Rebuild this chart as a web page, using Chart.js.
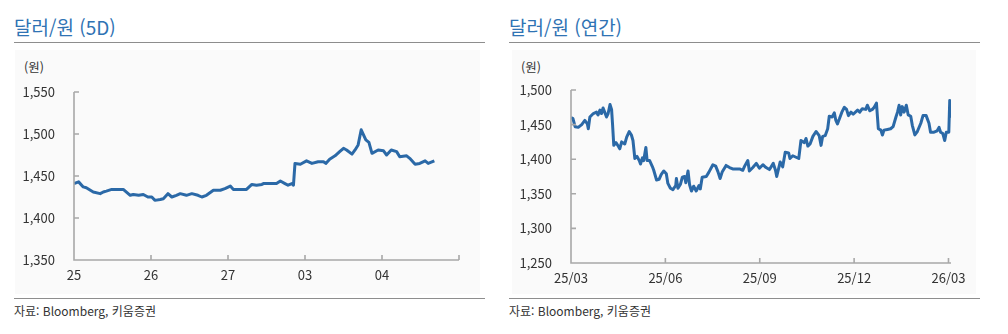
<!DOCTYPE html>
<html lang="ko">
<head>
<meta charset="utf-8">
<script src="https://cdn.jsdelivr.net/npm/chart.js@4"></script>
<style>
  html, body { margin: 0; padding: 0; background: #fff; }
  body { width: 1008px; height: 334px; position: relative; overflow: hidden;
         font-family: "Noto Sans CJK KR", "Noto Sans", sans-serif; color: #333; }
  .title { position: absolute; top: 14px; font-size: 19px; color: #2f73b4; line-height: 26px; }
  .rule { position: absolute; height: 0; border-top: 1.5px solid #8e8e8e; }
  .panel { position: absolute; top: 50px; height: 244px; background: #fafafa; }
  .unit { position: absolute; top: 58px; font-size: 12.5px; line-height: 18px; color: #333; }
  .source { position: absolute; top: 302px; font-size: 12px; line-height: 18px; color: #333; }
  canvas { position: absolute; }
</style>
</head>
<body>
<script>
// 5-day intraday USD/KRW (x = trading day offset, 0 = the 25th)
const fiveDayX = [0.00, 0.06, 0.12, 0.16, 0.25, 0.34, 0.38, 0.42, 0.49, 0.64, 0.73, 0.77, 0.84, 0.90, 0.96,
  1.01, 1.05, 1.12, 1.16, 1.22, 1.27, 1.33, 1.38, 1.46, 1.53, 1.61, 1.66, 1.72, 1.81, 1.90, 1.96,
  2.03, 2.07, 2.24, 2.31, 2.37, 2.44, 2.46, 2.63, 2.68, 2.74, 2.78, 2.83, 2.85, 2.87, 2.94,
  3.02, 3.09, 3.17, 3.24, 3.27, 3.32, 3.39, 3.45, 3.50, 3.54, 3.61, 3.65, 3.69, 3.73, 3.79, 3.83, 3.87, 3.95,
  4.02, 4.06, 4.12, 4.19, 4.23, 4.32, 4.36, 4.43, 4.49, 4.56, 4.60, 4.68];
const fiveDayRate = [1441, 1443, 1437, 1436, 1431, 1429, 1431, 1432, 1434, 1434, 1427, 1428, 1427, 1428, 1425,
  1425, 1421, 1422, 1423, 1429, 1425, 1427, 1429, 1427, 1429, 1427, 1425, 1427, 1433, 1433, 1435,
  1438, 1434, 1434, 1440, 1439, 1440, 1441, 1441, 1444, 1441, 1439, 1441, 1439, 1465, 1464,
  1468, 1465, 1467, 1467, 1465, 1470, 1474, 1479, 1483, 1481, 1476, 1481, 1487, 1505, 1493, 1490, 1477, 1481,
  1480, 1475, 1481, 1479, 1473, 1474, 1471, 1464, 1465, 1468, 1465, 1468];
const fiveDayTicks = ['25', '26', '27', '03', '04', ''];

// one-year USD/KRW (x = months since 25/03)
const yearMonth = [0, 0.06, 0.13, 0.23, 0.34, 0.44, 0.52, 0.55, 0.60, 0.71, 0.81, 0.86, 0.92, 0.97, 1.02, 1.08, 1.13, 1.18,
  1.24, 1.29, 1.32, 1.36, 1.43, 1.50, 1.55, 1.61, 1.71, 1.77, 1.85, 1.92, 1.97, 2.03, 2.10, 2.17, 2.21, 2.27,
  2.31, 2.38, 2.42, 2.50, 2.59, 2.63, 2.72, 2.80, 2.87, 2.95, 3.03, 3.08, 3.16, 3.24, 3.33, 3.35, 3.40, 3.48,
  3.54, 3.61, 3.65, 3.72, 3.77, 3.83, 3.90, 3.98, 4.07, 4.11, 4.17, 4.30, 4.38, 4.51, 4.60, 4.67, 4.74, 4.81,
  4.93, 5.04, 5.14, 5.36, 5.46, 5.52, 5.62, 5.67, 5.78, 5.89, 5.99, 6.10, 6.20, 6.31, 6.43, 6.50, 6.54, 6.65,
  6.73, 6.81, 6.92, 6.96, 7.05, 7.24, 7.31, 7.42, 7.47, 7.53, 7.60, 7.69, 7.79, 7.89, 7.95, 8.00, 8.08, 8.16,
  8.21, 8.30, 8.37, 8.42, 8.47, 8.53, 8.61, 8.69, 8.76, 8.82, 8.90, 8.97, 9.11, 9.18, 9.26, 9.37, 9.42, 9.50,
  9.58, 9.64, 9.71, 9.77, 9.85, 9.90, 9.95, 10.06, 10.16, 10.24, 10.33, 10.38, 10.43, 10.48, 10.53, 10.59,
  10.66, 10.72, 10.80, 10.85, 10.93, 11.01, 11.12, 11.19, 11.29, 11.38, 11.43, 11.54, 11.64, 11.70, 11.75,
  11.82, 11.88, 11.93, 12.01, 12.04, 12.07];
const yearRate = [1460, 1459, 1447, 1446, 1450, 1456, 1451, 1444, 1461, 1466, 1468, 1464, 1471, 1466, 1474, 1467, 1461, 1466,
  1479, 1472, 1451, 1420, 1424, 1419, 1415, 1425, 1422, 1432, 1440, 1435, 1427, 1401, 1404, 1398, 1393, 1402,
  1398, 1417, 1398, 1398, 1389, 1384, 1370, 1371, 1378, 1383, 1379, 1365, 1358, 1356, 1362, 1372, 1358, 1364,
  1374, 1375, 1366, 1383, 1363, 1354, 1361, 1354, 1362, 1357, 1374, 1375, 1381, 1392, 1390, 1382, 1372, 1382,
  1391, 1388, 1386, 1386, 1384, 1390, 1398, 1383, 1388, 1394, 1387, 1392, 1388, 1385, 1394, 1384, 1375, 1396,
  1389, 1410, 1409, 1401, 1405, 1401, 1427, 1424, 1430, 1419, 1422, 1433, 1440, 1434, 1420, 1433, 1434, 1444,
  1462, 1461, 1467, 1456, 1451, 1458, 1468, 1475, 1472, 1463, 1468, 1465, 1471, 1468, 1473, 1472, 1478, 1470,
  1472, 1475, 1481, 1444, 1442, 1435, 1442, 1443, 1444, 1447, 1461, 1468, 1478, 1464, 1476, 1468,
  1478, 1464, 1462, 1449, 1435, 1440, 1452, 1463, 1463, 1452, 1439, 1439, 1441, 1446, 1439,
  1437, 1427, 1439, 1439, 1485, 1460];
const yearTicks = ['25/03', '25/06', '25/09', '25/12', '26/03'];

const LINE_COLOR = '#2b69a7';
const AXIS_COLOR = '#a8a8a8';
const FONT = '"Noto Sans CJK KR", "Noto Sans", sans-serif';

// axis lines with short inward tick marks
const innerAxes = {
  id: 'innerAxes',
  afterDraw(chart) {
    const { ctx, chartArea: a, scales: { x, y } } = chart;
    ctx.save();
    ctx.strokeStyle = AXIS_COLOR;
    ctx.lineWidth = 1.6;
    ctx.beginPath();
    ctx.moveTo(a.left, a.top);
    ctx.lineTo(a.left, a.bottom);
    ctx.lineTo(a.right, a.bottom);
    y.ticks.forEach(t => {
      const py = y.getPixelForValue(t.value);
      ctx.moveTo(a.left, py);
      ctx.lineTo(a.left + 5, py);
    });
    x.ticks.forEach(t => {
      const px = x.getPixelForValue(t.value);
      ctx.moveTo(px, a.bottom);
      ctx.lineTo(px, a.bottom - 5);
    });
    ctx.stroke();
    ctx.restore();
  }
};

function makeChart(opts) {
  const canvas = document.createElement('canvas');
  canvas.width = opts.w;
  canvas.height = opts.h;
  canvas.style.left = opts.left + 'px';
  canvas.style.top = opts.top + 'px';
  canvas.style.width = opts.w + 'px';
  canvas.style.height = opts.h + 'px';
  document.body.appendChild(canvas);

  const points = opts.xs.map((v, i) => ({ x: v, y: opts.ys[i] }));
  return new Chart(canvas.getContext('2d'), {
    type: 'line',
    data: {
      datasets: [{
        data: points,
        borderColor: LINE_COLOR,
        borderWidth: 3,
        pointRadius: 0,
        tension: 0,
        borderJoinStyle: 'round',
        fill: false,
      }]
    },
    options: {
      responsive: false,
      animation: false,
      events: [],
      layout: { padding: { top: opts.padTop, right: opts.padRight, left: 0, bottom: 0 } },
      plugins: { legend: { display: false }, tooltip: { enabled: false } },
      scales: {
        x: {
          type: 'linear',
          min: opts.xMin,
          max: opts.xMax,
          grid: { display: false, drawTicks: false },
          border: { display: false },
          afterBuildTicks: s => { s.ticks = opts.xTickValues.map(v => ({ value: v })); },
          afterFit: s => { s.height = opts.xHeight; },
          ticks: {
            padding: 7,
            maxRotation: 0,
            autoSkip: false,
            color: '#333',
            font: { family: FONT, size: 13 },
            callback: (v, i) => opts.xLabels[i]
          }
        },
        y: {
          min: opts.yMin,
          max: opts.yMax,
          grid: { display: false, drawTicks: false },
          border: { display: false },
          afterFit: s => { s.width = opts.yWidth; },
          ticks: {
            stepSize: 50,
            padding: 19,
            color: '#333',
            font: { family: FONT, size: 13 },
            callback: v => v.toLocaleString('en-US')
          }
        }
      }
    },
    plugins: [innerAxes]
  });
}

function addDiv(cls, css, text) {
  const d = document.createElement('div');
  d.className = cls;
  Object.assign(d.style, css);
  if (text) d.textContent = text;
  document.body.appendChild(d);
}

// left panel: 5 days
addDiv('panel', { left: '15px', width: '465px' });
addDiv('title', { left: '14px' }, '달러/원 (5D)');
addDiv('rule', { left: '14px', width: '471px', top: '42px' });
addDiv('unit', { left: '24px' }, '(원)');
addDiv('rule', { left: '14px', width: '471px', top: '298px' });
addDiv('source', { left: '14px' }, '자료: Bloomberg,  키움증권');

// right panel: one year
addDiv('panel', { left: '512px', width: '464px' });
addDiv('title', { left: '509px' }, '달러/원 (연간)');
addDiv('rule', { left: '509px', width: '471px', top: '42px' });
addDiv('unit', { left: '521px' }, '(원)');
addDiv('rule', { left: '509px', width: '471px', top: '298px' });
addDiv('source', { left: '509px' }, '자료: Bloomberg,  키움증권');

makeChart({
  left: 0, top: 50, w: 490, h: 245,
  padTop: 42, padRight: 31, yWidth: 74, xHeight: 35,
  xs: fiveDayX, ys: fiveDayRate,
  xMin: 0, xMax: 5, xTickValues: [0, 1, 2, 3, 4, 5], xLabels: fiveDayTicks,
  yMin: 1350, yMax: 1550
});

makeChart({
  left: 500, top: 50, w: 490, h: 245,
  padTop: 40, padRight: 39, yWidth: 71, xHeight: 32,
  xs: yearMonth, ys: yearRate,
  xMin: 0, xMax: 12.08, xTickValues: [0, 3, 6, 9, 12], xLabels: yearTicks,
  yMin: 1250, yMax: 1500
});
</script>
</body>
</html>
